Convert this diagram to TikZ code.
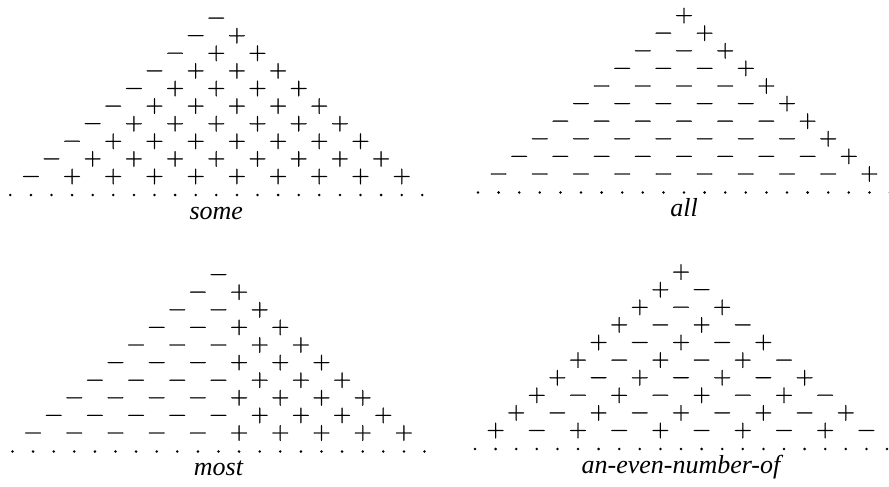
\RequirePackage{fix-cm}
\documentclass[tikz,border=0pt]{standalone}
\usepackage{fontspec}
\setmainfont{Liberation Serif}
\newfontfamily\signfont{Latin Modern Roman}[FakeBold=1.0]
\tikzset{
  sign/.style={inner sep=0pt, anchor=base, font=\fontsize{25}{25}\signfont},
  qlabel/.style={inner sep=0pt, anchor=base, font=\fontsize{26}{26}\selectfont\itshape},
  dotmark/.style={fill=black}
}
% #1 name, #2 centre x, #3 y of bottom row, #4 type, #5 label
\newcommand\numtree[5]{%
  \foreach \n in {0,...,9}{%
    \foreach \k in {0,...,\n}{%
      \pgfmathtruncatemacro\sg{#4==0 ? (\k>0) : (#4==1 ? (\k==\n) : (#4==2 ? (2*\k>\n) : (mod(\k,2)==0)))}%
      \node[sign] (#1-\n-\k) at ({#2+(2*\k-\n)*20.6},{#3-(9-\n)*17.6+6.25}) {\ifnum\sg=1 +\else −\fi};
    }%
  }%
  \foreach \j in {-10,...,10}{%
    \fill[dotmark] ({#2+\j*20.6},{#3+18.5}) circle[radius=1.4pt];
  }%
  \node[qlabel] (#1-label) at (#2,{#3+42.5}) {#5};
}
\begin{document}
\begin{tikzpicture}[x=1pt,y=-1pt]
\useasboundingbox (0,0) rectangle (889,487);
\numtree{some}{216.3}{176.5}{0}{some}
\numtree{all}{684}{174}{1}{all}
\numtree{most}{218.5}{433}{2}{most}
\numtree{even}{681}{430.5}{3}{an-even-number-of}
\end{tikzpicture}
\end{document}
